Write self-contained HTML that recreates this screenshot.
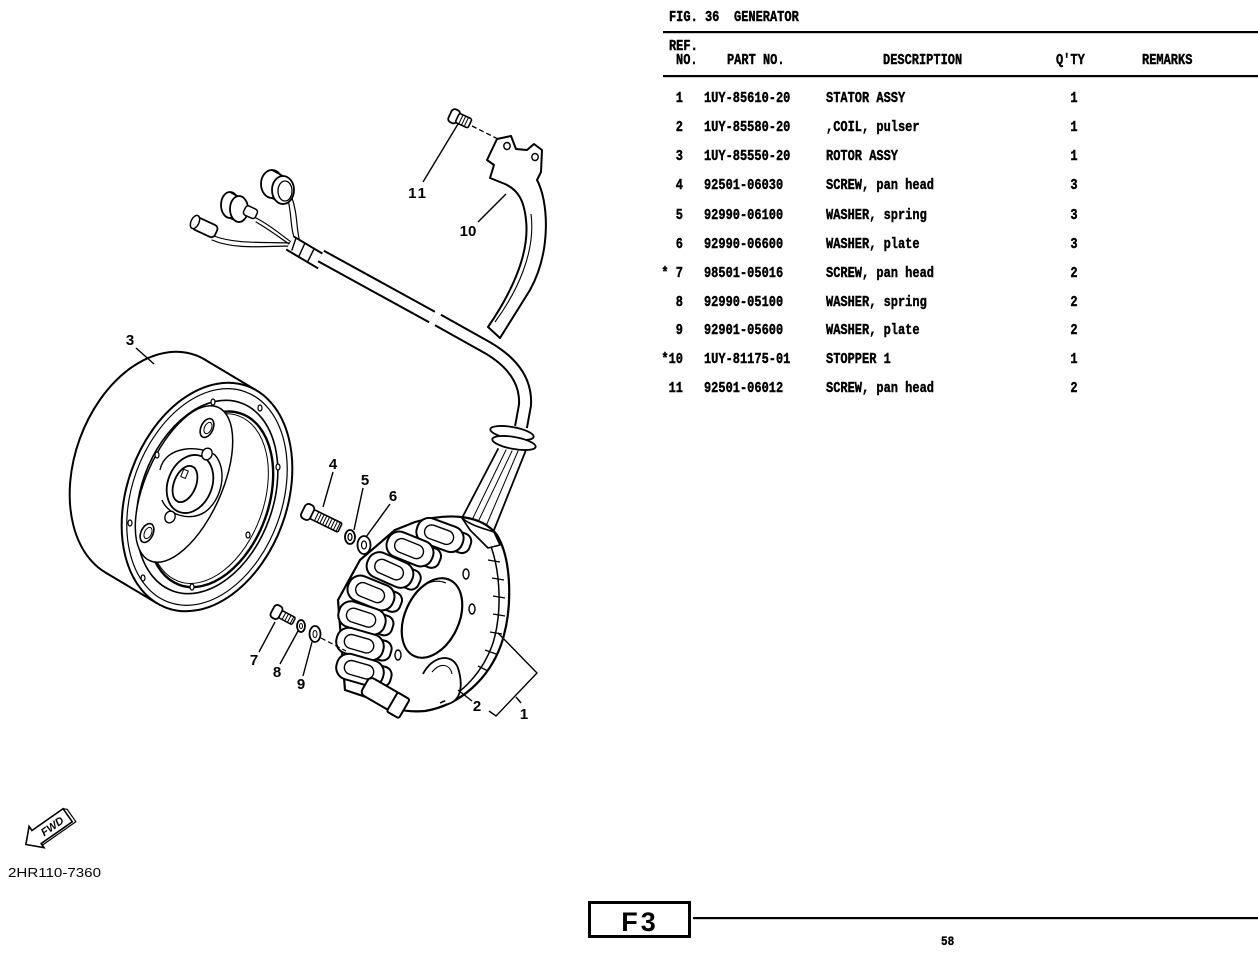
<!DOCTYPE html>
<html><head><meta charset="utf-8"><style>
html,body{margin:0;padding:0;background:#fff;}
svg{display:block;}
</style></head><body>
<svg width="1258" height="958" viewBox="0 0 1258 958" xmlns="http://www.w3.org/2000/svg">
<rect width="1258" height="958" fill="#fff"/>

<!-- ================= TABLE ================= -->
<g font-family="'Liberation Mono', monospace" font-weight="bold" font-size="12" fill="#000" stroke="#000" stroke-width="0.35">
  <g transform="translate(0,21) scale(1,1.2)"><text x="669">FIG. 36</text><text x="734">GENERATOR</text></g>
  <rect x="663" y="31" width="595" height="2.2" stroke="none"/>
  <g transform="translate(0,50) scale(1,1.2)"><text x="669">REF.</text></g>
  <g transform="translate(0,64) scale(1,1.2)">
    <text x="676">NO.</text><text x="727">PART NO.</text><text x="883">DESCRIPTION</text><text x="1056">Q'TY</text><text x="1142">REMARKS</text>
  </g>
  <rect x="663" y="75" width="595" height="2.2" stroke="none"/>

  <g transform="translate(0,102) scale(1,1.2)"><text x="683" text-anchor="end">1</text><text x="704">1UY-85610-20</text><text x="826">STATOR ASSY</text><text x="1074" text-anchor="middle">1</text></g>
  <g transform="translate(0,131) scale(1,1.2)"><text x="683" text-anchor="end">2</text><text x="704">1UY-85580-20</text><text x="826">,COIL, pulser</text><text x="1074" text-anchor="middle">1</text></g>
  <g transform="translate(0,160) scale(1,1.2)"><text x="683" text-anchor="end">3</text><text x="704">1UY-85550-20</text><text x="826">ROTOR ASSY</text><text x="1074" text-anchor="middle">1</text></g>
  <g transform="translate(0,189) scale(1,1.2)"><text x="683" text-anchor="end">4</text><text x="704">92501-06030</text><text x="826">SCREW, pan head</text><text x="1074" text-anchor="middle">3</text></g>
  <g transform="translate(0,219) scale(1,1.2)"><text x="683" text-anchor="end">5</text><text x="704">92990-06100</text><text x="826">WASHER, spring</text><text x="1074" text-anchor="middle">3</text></g>
  <g transform="translate(0,248) scale(1,1.2)"><text x="683" text-anchor="end">6</text><text x="704">92990-06600</text><text x="826">WASHER, plate</text><text x="1074" text-anchor="middle">3</text></g>
  <g transform="translate(0,277) scale(1,1.2)"><text x="683" text-anchor="end">* 7</text><text x="704">98501-05016</text><text x="826">SCREW, pan head</text><text x="1074" text-anchor="middle">2</text></g>
  <g transform="translate(0,306) scale(1,1.2)"><text x="683" text-anchor="end">8</text><text x="704">92990-05100</text><text x="826">WASHER, spring</text><text x="1074" text-anchor="middle">2</text></g>
  <g transform="translate(0,334) scale(1,1.2)"><text x="683" text-anchor="end">9</text><text x="704">92901-05600</text><text x="826">WASHER, plate</text><text x="1074" text-anchor="middle">2</text></g>
  <g transform="translate(0,363) scale(1,1.2)"><text x="683" text-anchor="end">*10</text><text x="704">1UY-81175-01</text><text x="826">STOPPER 1</text><text x="1074" text-anchor="middle">1</text></g>
  <g transform="translate(0,392) scale(1,1.2)"><text x="683" text-anchor="end">11</text><text x="704">92501-06012</text><text x="826">SCREW, pan head</text><text x="1074" text-anchor="middle">2</text></g>
</g>

<!-- ================= FOOTER ================= -->
<rect x="589.5" y="902.5" width="100" height="34" fill="none" stroke="#000" stroke-width="3"/>
<text x="640" y="931" text-anchor="middle" font-family="'Liberation Sans', sans-serif" font-weight="bold" font-size="27" fill="#000" letter-spacing="3">F3</text>
<rect x="693" y="917" width="565" height="2.2" fill="#000"/>
<g transform="translate(0,945) scale(1,1.2)"><text x="941" font-family="'Liberation Mono', monospace" font-weight="bold" font-size="11" fill="#000" stroke="#000" stroke-width="0.3">58</text></g>

<!-- FWD arrow -->
<g transform="translate(48,829) rotate(-35)">
  <polygon points="-27,0 -14,-13 -14,-8 24,-8 24,8 -14,8 -14,13" fill="#fff" stroke="#000" stroke-width="1.6"/>
  <polyline points="24,-8 27,-5 27,10 -14,10" fill="none" stroke="#000" stroke-width="1.2"/>
  <text x="5" y="4" text-anchor="middle" font-family="'Liberation Sans', sans-serif" font-weight="bold" font-style="italic" font-size="11" fill="#000">FWD</text>
</g>
<text x="8" y="877" font-family="'Liberation Sans', sans-serif" font-size="13" fill="#000" textLength="93" lengthAdjust="spacingAndGlyphs">2HR110-7360</text>

<!-- ================= ROTOR (3) ================= -->
<g stroke="#000" fill="#fff" stroke-linejoin="round">
  <ellipse cx="0" cy="0" rx="80" ry="118" transform="translate(155,466) rotate(20)" stroke-width="2"/>
  <polygon points="204.6,359.5 256.6,390.5 157.4,603.5 105.4,572.5" stroke="none"/>
  <line x1="204.6" y1="359.5" x2="256.6" y2="390.5" stroke-width="2"/>
  <line x1="105.4" y1="572.5" x2="157.4" y2="603.5" stroke-width="2"/>
  <g transform="translate(207,497) rotate(20)">
    <ellipse cx="0" cy="0" rx="80" ry="118" stroke-width="2"/>
    <ellipse cx="0" cy="0" rx="75" ry="112" stroke-width="1.2" fill="none"/>
    <ellipse cx="0" cy="0" rx="66" ry="100" stroke-width="1.6" fill="none"/>
    <ellipse cx="4" cy="1" rx="58" ry="91" stroke-width="2.4" fill="none"/>
    <ellipse cx="2" cy="1" rx="55" ry="88" stroke-width="1" fill="none"/>
  </g>
  <!-- inner plate -->
  <ellipse cx="0" cy="0" rx="38" ry="84" transform="translate(184,484) rotate(24)" stroke-width="1.5"/>
  <!-- hub -->
  <path d="M160,470 C165,445 200,445 215,455 C228,470 222,500 205,512 C190,522 168,515 162,500" stroke-width="1.4"/>
  <ellipse cx="0" cy="0" rx="22" ry="30" transform="translate(190,484) rotate(22)" stroke-width="1.8"/>
  <ellipse cx="0" cy="0" rx="11" ry="19" transform="translate(185,484) rotate(22)" stroke-width="1.8"/>
  <rect x="182" y="470" width="5" height="8" stroke-width="1" transform="rotate(22 185 474)"/>
  <!-- plate holes -->
  <ellipse cx="0" cy="0" rx="6" ry="10" transform="translate(207,428) rotate(25)" stroke-width="1.6"/>
  <ellipse cx="0" cy="0" rx="3.5" ry="6" transform="translate(208,428) rotate(25)" stroke-width="1"/>
  <ellipse cx="0" cy="0" rx="6" ry="10" transform="translate(147,533) rotate(25)" stroke-width="1.6"/>
  <ellipse cx="0" cy="0" rx="3.5" ry="6" transform="translate(148,533) rotate(25)" stroke-width="1"/>
  <ellipse cx="0" cy="0" rx="5" ry="6" transform="translate(207,454) rotate(25)" stroke-width="1.4"/>
  <ellipse cx="0" cy="0" rx="5" ry="6" transform="translate(170,517) rotate(25)" stroke-width="1.4"/>
  <!-- rim small holes -->
  <g stroke-width="1.2">
    <ellipse cx="213" cy="402" rx="2" ry="3"/>
    <ellipse cx="260" cy="408" rx="2" ry="3"/>
    <ellipse cx="278" cy="467" rx="2" ry="3"/>
    <ellipse cx="248" cy="535" rx="2" ry="3"/>
    <ellipse cx="192" cy="587" rx="2" ry="3"/>
    <ellipse cx="143" cy="578" rx="2" ry="3"/>
    <ellipse cx="130" cy="523" rx="2" ry="3"/>
    <ellipse cx="157" cy="455" rx="2" ry="3"/>
  </g>
</g>

<!-- ================= HARNESS ================= -->
<g stroke="#000" fill="#fff" stroke-linejoin="round" stroke-linecap="round">
  <path d="M288,200 C292,215 290,230 296,242" fill="none" stroke-width="1.2"/>
  <path d="M292,198 C298,215 296,230 300,242" fill="none" stroke-width="1.2"/>
  <path d="M256,218 C272,226 282,236 294,244" fill="none" stroke-width="1.2"/>
  <path d="M256,222 C270,230 280,238 292,246" fill="none" stroke-width="1.2"/>
  <path d="M212,240 C235,250 265,246 292,246" fill="none" stroke-width="1.2"/>
  <path d="M214,236 C235,244 262,242 292,243" fill="none" stroke-width="1.2"/>
  <ellipse cx="272" cy="184" rx="11" ry="14" stroke-width="1.8"/>
  <path d="M272,170 L283,176 M272,198 L283,204" stroke-width="1.6"/>
  <ellipse cx="283" cy="190" rx="11" ry="14" stroke-width="1.8"/>
  <ellipse cx="285" cy="191" rx="7" ry="10" stroke-width="1.3"/>
  <ellipse cx="230" cy="205" rx="9" ry="13" stroke-width="1.8"/>
  <path d="M230,192 L239,197 M230,218 L239,222" stroke-width="1.6"/>
  <ellipse cx="239" cy="209" rx="9" ry="13" stroke-width="1.8"/>
  <rect x="244" y="207" width="13" height="10" rx="3" stroke-width="1.5" transform="rotate(25 250 212)"/>
  <rect x="193" y="221" width="24" height="13" rx="4" stroke-width="1.8" transform="rotate(25 205 228)"/>
  <ellipse cx="195" cy="222" rx="4" ry="7" stroke-width="1.5" transform="rotate(25 195 222)"/>
  <path d="M290,243 L322,262" stroke="#000" stroke-width="17" fill="none" stroke-linecap="butt"/>
  <path d="M290,243 L322,262" stroke="#fff" stroke-width="13" fill="none" stroke-linecap="butt"/>
  <path d="M296,238 L292,250 M305,243 L299,256 M314,249 L308,261" stroke-width="1.4" fill="none"/>
  <path d="M321,256 L432,317" stroke="#000" stroke-width="14" fill="none" stroke-linecap="butt"/>
  <path d="M321,256 L432,317" stroke="#fff" stroke-width="10" fill="none" stroke-linecap="butt"/>
  <path d="M438,320 L488,348 Q527,371 525,405 L521,427" stroke="#000" stroke-width="14" fill="none" stroke-linecap="butt"/>
  <path d="M438,320 L488,348 Q527,371 525,405 L521,427" stroke="#fff" stroke-width="10" fill="none" stroke-linecap="butt"/>
  <ellipse cx="0" cy="0" rx="22" ry="6" transform="translate(512,433) rotate(10)" stroke-width="1.8"/>
  <ellipse cx="0" cy="0" rx="22" ry="6" transform="translate(514,443) rotate(10)" stroke-width="1.8"/>
  <path d="M498,449 L462,518" fill="none" stroke-width="1.8"/>
  <path d="M506,450 L472,520" fill="none" stroke-width="1"/>
  <path d="M512,451 L478,522" fill="none" stroke-width="1"/>
  <path d="M518,451 L486,526" fill="none" stroke-width="1"/>
  <path d="M526,450 L494,530" fill="none" stroke-width="1.8"/>
</g>

<!-- ================= BRACKET (10) & SCREW (11) ================= -->
<g stroke="#000" fill="#fff" stroke-linejoin="round">
  <path d="M487,160 L497,139 L511,136 L516,149 L527,150 L534,144 L542,150 L541,172 L537,180 C548,200 552,250 530,290 L500,338 L488,327 C510,295 530,255 526,220 C524,200 518,190 505,184 L490,178 L494,165 Z" stroke-width="2"/>
  <path d="M495,322 C517,292 536,252 531,214" fill="none" stroke-width="1.1"/>
  <ellipse cx="507" cy="146" rx="3.2" ry="3.5" stroke-width="1.4"/>
  <ellipse cx="535" cy="157" rx="3.2" ry="3.5" stroke-width="1.4"/>
  <g transform="translate(460,119) rotate(25)">
    <rect x="-11" y="-7" width="9" height="14" rx="3.5" stroke-width="1.8"/>
    <rect x="-3" y="-5" width="14" height="10" rx="2" stroke-width="1.6"/>
    <path d="M1,-5 L1,5 M4,-5 L4,5 M7,-5 L7,5" stroke-width="1"/>
  </g>
  <line x1="472" y1="126" x2="498" y2="139" stroke-width="1.3" stroke-dasharray="5,3"/>
</g>

<!-- ================= STATOR (1) ================= -->
<g stroke="#000" fill="#fff" stroke-linejoin="round">
  <path d="M415,522 C450,512 482,515 497,535 C512,560 513,610 501,645 C489,678 461,705 425,711 C400,713 385,706 375,700 L345,690 L338,600 L360,560 L395,530 Z" stroke-width="2.2"/>
  <path d="M484,532 C501,560 503,610 493,643 C483,672 462,694 440,703" fill="none" stroke-width="1.5"/>
  <g stroke-width="1.3">
    <path d="M488,560 L500,562 M492,578 L504,580 M493,596 L505,598 M493,614 L505,616 M490,632 L502,634 M485,650 L496,654 M478,666 L488,671"/>
  </g>
  <!-- central hole -->
  <ellipse cx="0" cy="0" rx="27" ry="42" transform="translate(432,618) rotate(25)" stroke-width="2.2"/>
  <path d="M412,598 C420,584 434,578 446,583" fill="none" stroke-width="1.2"/>
  <!-- small holes -->
  <ellipse cx="466" cy="574" rx="3" ry="5" stroke-width="1.4"/>
  <ellipse cx="472" cy="609" rx="3" ry="5" stroke-width="1.4"/>
  <ellipse cx="398" cy="655" rx="3" ry="5" stroke-width="1.4"/>
  <ellipse cx="410" cy="577" rx="3" ry="5" stroke-width="1.4"/>
  <!-- pulser coil 2 -->
  <path d="M423,674 C432,656 452,652 458,668 C463,684 462,700 448,704" stroke-width="1.8"/>
  <path d="M432,672 C440,662 450,664 452,674" fill="none" stroke-width="1.1"/>
  <!-- wire loom top -->
  <path d="M462,518 C470,525 482,528 494,532 L500,545 L488,548 L470,530 Z" stroke-width="1.6"/>
  <!-- coils -->
  <g stroke-width="2">
    <g transform="translate(440,535) rotate(20)"><rect x="-8" y="-10" width="40" height="20" rx="8"/><rect x="-24" y="-13" width="48" height="26" rx="12"/><rect x="-16" y="-7" width="30" height="14" rx="7" stroke-width="1.4"/></g>
    <g transform="translate(410,549) rotate(22)"><rect x="-8" y="-10" width="40" height="20" rx="8"/><rect x="-24" y="-13" width="48" height="26" rx="12"/><rect x="-16" y="-7" width="30" height="14" rx="7" stroke-width="1.4"/></g>
    <g transform="translate(390,570) rotate(24)"><rect x="-8" y="-10" width="40" height="20" rx="8"/><rect x="-24" y="-13" width="48" height="26" rx="12"/><rect x="-16" y="-7" width="30" height="14" rx="7" stroke-width="1.4"/></g>
    <g transform="translate(371,593) rotate(22)"><rect x="-8" y="-10" width="40" height="20" rx="8"/><rect x="-24" y="-13" width="48" height="26" rx="12"/><rect x="-16" y="-7" width="30" height="14" rx="7" stroke-width="1.4"/></g>
    <g transform="translate(362,618) rotate(18)"><rect x="-8" y="-10" width="40" height="20" rx="8"/><rect x="-24" y="-13" width="48" height="26" rx="12"/><rect x="-16" y="-7" width="30" height="14" rx="7" stroke-width="1.4"/></g>
    <g transform="translate(360,644) rotate(16)"><rect x="-8" y="-10" width="40" height="20" rx="8"/><rect x="-24" y="-13" width="48" height="26" rx="12"/><rect x="-16" y="-7" width="30" height="14" rx="7" stroke-width="1.4"/></g>
    <g transform="translate(360,670) rotate(16)"><rect x="-8" y="-10" width="40" height="20" rx="8"/><rect x="-24" y="-13" width="48" height="26" rx="12"/><rect x="-16" y="-7" width="30" height="14" rx="7" stroke-width="1.4"/></g>
    <g transform="translate(384,696) rotate(30)"><rect x="-22" y="-10" width="44" height="20" rx="5"/><rect x="10" y="-10" width="14" height="22" rx="2"/></g>
  </g>
</g>

<!-- ================= SCREWS / WASHERS ================= -->
<g stroke="#000" fill="#fff" stroke-linejoin="round">
  <g transform="translate(322,519) rotate(26)">
    <rect x="-21" y="-8" width="10" height="16" rx="4" stroke-width="1.8"/>
    <rect x="-11" y="-5" width="31" height="10" rx="1.5" stroke-width="1.6"/>
    <path d="M-6,-5 L-6,5 M-3,-5 L-3,5 M0,-5 L0,5 M3,-5 L3,5 M6,-5 L6,5 M9,-5 L9,5 M12,-5 L12,5 M15,-5 L15,5 M18,-5 L18,5" stroke-width="1"/>
  </g>
  <ellipse cx="350" cy="537" rx="5" ry="7" stroke-width="1.8"/>
  <ellipse cx="350" cy="537" rx="2" ry="3.5" stroke-width="1.2"/>
  <ellipse cx="364" cy="545" rx="6.5" ry="9" stroke-width="1.8"/>
  <ellipse cx="364" cy="545" rx="2.5" ry="4" stroke-width="1.2"/>
  <g transform="translate(284,616) rotate(28)">
    <rect x="-13" y="-7" width="9" height="14" rx="3.5" stroke-width="1.8"/>
    <rect x="-4" y="-4" width="15" height="8" rx="1.5" stroke-width="1.5"/>
    <path d="M0,-4 L0,4 M3,-4 L3,4 M6,-4 L6,4 M9,-4 L9,4" stroke-width="1"/>
  </g>
  <ellipse cx="301" cy="626" rx="4" ry="6" stroke-width="1.8"/>
  <ellipse cx="301" cy="626" rx="1.5" ry="2.5" stroke-width="1"/>
  <ellipse cx="315" cy="634" rx="5.5" ry="8" stroke-width="1.8"/>
  <ellipse cx="315" cy="634" rx="2" ry="3.5" stroke-width="1"/>
  <line x1="321" y1="638" x2="346" y2="651" stroke-width="1.2" stroke-dasharray="5,3"/>
</g>

<!-- ================= LEADERS & LABELS ================= -->
<g stroke="#000" stroke-width="1.4" fill="none">
  <line x1="136" y1="348" x2="154" y2="364"/>
  <line x1="423" y1="182" x2="458" y2="124"/>
  <line x1="478" y1="222" x2="506" y2="194"/>
  <line x1="333" y1="472" x2="323" y2="507"/>
  <line x1="363" y1="488" x2="354" y2="530"/>
  <line x1="390" y1="504" x2="366" y2="537"/>
  <line x1="259" y1="652" x2="275" y2="622"/>
  <line x1="280" y1="664" x2="298" y2="631"/>
  <line x1="303" y1="676" x2="312" y2="642"/>
  <line x1="472" y1="701" x2="458" y2="690"/>
  <polyline points="498,633 537,673 496,716 489,711"/>
  <line x1="516" y1="697" x2="521" y2="703"/>
</g>
<g font-family="'Liberation Sans', sans-serif" font-weight="bold" font-size="15" fill="#000" text-anchor="middle">
  <text x="130" y="345">3</text>
  <text x="418" y="198" letter-spacing="2">11</text>
  <text x="468" y="236">10</text>
  <text x="333" y="469">4</text>
  <text x="365" y="485">5</text>
  <text x="393" y="501">6</text>
  <text x="254" y="665">7</text>
  <text x="277" y="677">8</text>
  <text x="301" y="689">9</text>
  <text x="477" y="711">2</text>
  <text x="524" y="719">1</text>
</g>
</svg>
</body></html>
